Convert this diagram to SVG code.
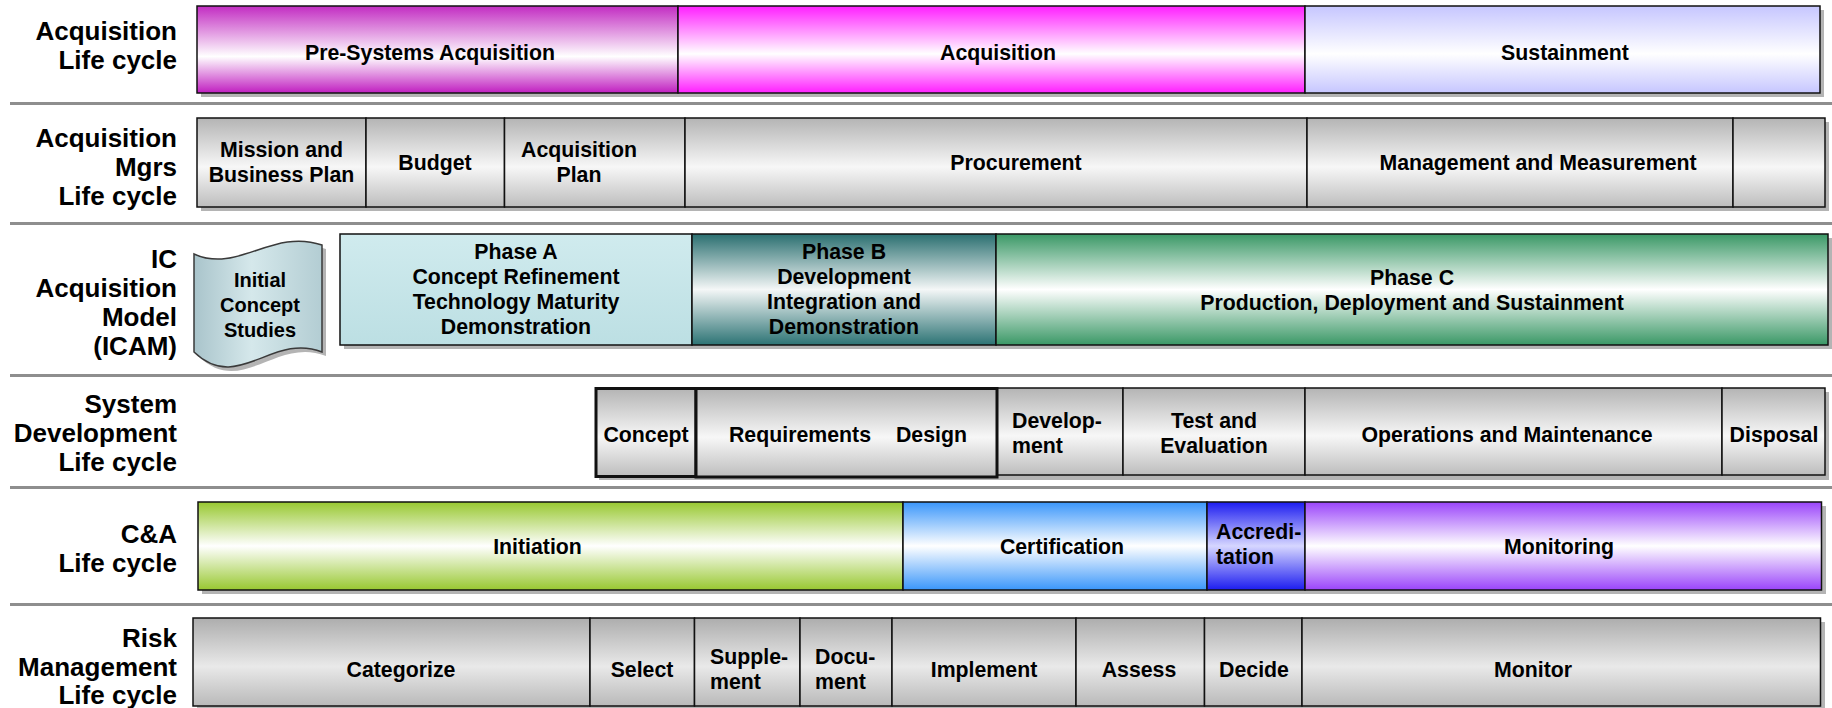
<svg xmlns="http://www.w3.org/2000/svg" width="1832" height="708" viewBox="0 0 1832 708">
  <defs>
    <linearGradient id="gGray" x1="0" y1="0" x2="0" y2="1">
      <stop offset="0" stop-color="#b4b4b4"/>
      <stop offset="0.55" stop-color="#f7f7f7"/>
      <stop offset="1" stop-color="#bdbdbd"/>
    </linearGradient>
    <linearGradient id="gGray2" x1="0" y1="0" x2="0" y2="1">
      <stop offset="0" stop-color="#adadad"/>
      <stop offset="0.55" stop-color="#e9e9e9"/>
      <stop offset="1" stop-color="#b9b9b9"/>
    </linearGradient>
    <linearGradient id="gPre" x1="0" y1="0" x2="0" y2="1">
      <stop offset="0" stop-color="#c22cc2"/>
      <stop offset="0.58" stop-color="#ffffff"/>
      <stop offset="1" stop-color="#c01ec0"/>
    </linearGradient>
    <linearGradient id="gAcq" x1="0" y1="0" x2="0" y2="1">
      <stop offset="0" stop-color="#ff1eff"/>
      <stop offset="0.55" stop-color="#ffffff"/>
      <stop offset="1" stop-color="#ff1eff"/>
    </linearGradient>
    <linearGradient id="gSus" x1="0" y1="0" x2="0" y2="1">
      <stop offset="0" stop-color="#c6c6ff"/>
      <stop offset="0.55" stop-color="#ffffff"/>
      <stop offset="1" stop-color="#c6c6ff"/>
    </linearGradient>
    <linearGradient id="gPhA" x1="0" y1="0" x2="0" y2="1">
      <stop offset="0" stop-color="#d0ebee"/>
      <stop offset="1" stop-color="#bcdfe3"/>
    </linearGradient>
    <linearGradient id="gPhB" x1="0" y1="0" x2="0" y2="1">
      <stop offset="0" stop-color="#2a6f70"/>
      <stop offset="0.5" stop-color="#f4f7f7"/>
      <stop offset="1" stop-color="#2c7374"/>
    </linearGradient>
    <linearGradient id="gPhC" x1="0" y1="0" x2="0" y2="1">
      <stop offset="0" stop-color="#3a9866"/>
      <stop offset="0.5" stop-color="#ffffff"/>
      <stop offset="1" stop-color="#3a9866"/>
    </linearGradient>
    <linearGradient id="gIni" x1="0" y1="0" x2="0" y2="1">
      <stop offset="0" stop-color="#98c830"/>
      <stop offset="0.5" stop-color="#ffffff"/>
      <stop offset="1" stop-color="#98c830"/>
    </linearGradient>
    <linearGradient id="gCer" x1="0" y1="0" x2="0" y2="1">
      <stop offset="0" stop-color="#3a96fa"/>
      <stop offset="0.5" stop-color="#ffffff"/>
      <stop offset="1" stop-color="#3a96fa"/>
    </linearGradient>
    <linearGradient id="gAcc" x1="0" y1="0" x2="0" y2="1">
      <stop offset="0" stop-color="#1c1cf0"/>
      <stop offset="0.5" stop-color="#d6d6ff"/>
      <stop offset="1" stop-color="#1c1cf0"/>
    </linearGradient>
    <linearGradient id="gMon" x1="0" y1="0" x2="0" y2="1">
      <stop offset="0" stop-color="#9a44fa"/>
      <stop offset="0.5" stop-color="#ffffff"/>
      <stop offset="1" stop-color="#9a44fa"/>
    </linearGradient>
    <linearGradient id="gScroll" x1="0" y1="0" x2="1" y2="0">
      <stop offset="0" stop-color="#a9c4cb"/>
      <stop offset="0.45" stop-color="#d5e8eb"/>
      <stop offset="1" stop-color="#b3cdd3"/>
    </linearGradient>
  </defs>
  <style>
    text { font-family: "Liberation Sans", Arial, sans-serif; font-weight: bold; fill: #000; }
    .lbl { font-size: 26px; text-anchor: end; }
    .t { font-size: 21.3px; text-anchor: middle; }
    .tl { font-size: 21.3px; text-anchor: start; }
    .ts { font-size: 20px; text-anchor: middle; }
    .cell { stroke: #111; stroke-width: 1.5; }
    .thick { stroke: #111; stroke-width: 3; }
    .shadow { fill: #b4b4b4; }
    .sep { stroke: #8e8e8e; stroke-width: 3; }
  </style>

  <rect width="1832" height="708" fill="#ffffff"/>

  <!-- horizontal separators between the life cycle rows -->
  <g id="separators">
    <line class="sep" x1="10" y1="103.5" x2="1832" y2="103.5"/>
    <line class="sep" x1="10" y1="223.5" x2="1832" y2="223.5"/>
    <line class="sep" x1="10" y1="375.5" x2="1832" y2="375.5"/>
    <line class="sep" x1="10" y1="487.5" x2="1832" y2="487.5"/>
    <line class="sep" x1="10" y1="604.5" x2="1832" y2="604.5"/>
  </g>

  <!-- row labels -->
  <g id="label-acquisition">
    <text class="lbl" x="177" y="39.5">Acquisition</text>
    <text class="lbl" x="177" y="68.5">Life cycle</text>
  </g>
  <g id="label-mgrs">
    <text class="lbl" x="177" y="147">Acquisition</text>
    <text class="lbl" x="177" y="176">Mgrs</text>
    <text class="lbl" x="177" y="205">Life cycle</text>
  </g>
  <g id="label-icam">
    <text class="lbl" x="177" y="268">IC</text>
    <text class="lbl" x="177" y="297">Acquisition</text>
    <text class="lbl" x="177" y="326">Model</text>
    <text class="lbl" x="177" y="355">(ICAM)</text>
  </g>
  <g id="label-sdlc">
    <text class="lbl" x="177" y="413">System</text>
    <text class="lbl" x="177" y="442">Development</text>
    <text class="lbl" x="177" y="471">Life cycle</text>
  </g>
  <g id="label-ca">
    <text class="lbl" x="177" y="543">C&amp;A</text>
    <text class="lbl" x="177" y="572">Life cycle</text>
  </g>
  <g id="label-risk">
    <text class="lbl" x="177" y="647">Risk</text>
    <text class="lbl" x="177" y="675.5">Management</text>
    <text class="lbl" x="177" y="704">Life cycle</text>
  </g>

  <!-- Row 1: acquisition life cycle -->
  <rect class="shadow" x="201" y="10" width="1623" height="87"/>
  <g id="pre-systems">
    <rect class="cell" x="197" y="6" width="481" height="87" fill="url(#gPre)"/>
    <text class="t" x="430" y="60">Pre-Systems Acquisition</text>
  </g>
  <g id="acquisition">
    <rect class="cell" x="678" y="6" width="627" height="87" fill="url(#gAcq)"/>
    <text class="t" x="998" y="60">Acquisition</text>
  </g>
  <g id="sustainment">
    <rect class="cell" x="1305" y="6" width="515" height="87" fill="url(#gSus)"/>
    <text class="t" x="1565" y="60">Sustainment</text>
  </g>

  <!-- Row 2: acquisition managers life cycle -->
  <rect class="shadow" x="201" y="122" width="1628" height="89"/>
  <g id="mission-plan">
    <rect class="cell" x="197" y="118" width="169" height="89" fill="url(#gGray)"/>
    <text class="t" x="281.5" y="156.5">Mission and</text>
    <text class="t" x="281.5" y="181.5">Business Plan</text>
  </g>
  <g id="budget">
    <rect class="cell" x="366" y="118" width="138.5" height="89" fill="url(#gGray)"/>
    <text class="t" x="435" y="169.5">Budget</text>
  </g>
  <g id="acquisition-plan">
    <rect class="cell" x="504.5" y="118" width="180.5" height="89" fill="url(#gGray)"/>
    <text class="t" x="579" y="156.5">Acquisition</text>
    <text class="t" x="579" y="181.5">Plan</text>
  </g>
  <g id="procurement">
    <rect class="cell" x="685" y="118" width="622" height="89" fill="url(#gGray)"/>
    <text class="t" x="1016" y="169.5">Procurement</text>
  </g>
  <g id="management-measurement">
    <rect class="cell" x="1307" y="118" width="426" height="89" fill="url(#gGray)"/>
    <text class="t" x="1538" y="169.5">Management and Measurement</text>
  </g>
  <g id="mgrs-end">
    <rect class="cell" x="1733" y="118" width="92" height="89" fill="url(#gGray)"/>
  </g>

  <!-- Row 3: IC acquisition model -->
  <g id="initial-concept-studies">
    <path class="shadow" d="M198,258 C242,278 276,232 326,249 L326,356 C276,336 242,398 198,356 Z"/>
    <path d="M194,254 C238,274 272,228 322,245 L322,352 C272,332 238,394 194,352 Z" fill="url(#gScroll)" stroke="#3a3a3a" stroke-width="1.5"/>
    <text class="ts" x="260" y="287">Initial</text>
    <text class="ts" x="260" y="312">Concept</text>
    <text class="ts" x="260" y="337">Studies</text>
  </g>
  <rect class="shadow" x="344" y="238" width="1488" height="111"/>
  <g id="phase-a">
    <rect class="cell" x="340" y="234" width="352" height="111" fill="url(#gPhA)"/>
    <text class="t" x="516" y="258.5">Phase A</text>
    <text class="t" x="516" y="283.8">Concept Refinement</text>
    <text class="t" x="516" y="309.1">Technology Maturity</text>
    <text class="t" x="516" y="334.4">Demonstration</text>
  </g>
  <g id="phase-b">
    <rect class="cell" x="692" y="234" width="304" height="111" fill="url(#gPhB)"/>
    <text class="t" x="844" y="258.5">Phase B</text>
    <text class="t" x="844" y="283.8">Development</text>
    <text class="t" x="844" y="309.1">Integration and</text>
    <text class="t" x="844" y="334.4">Demonstration</text>
  </g>
  <g id="phase-c">
    <rect class="cell" x="996" y="234" width="832" height="111" fill="url(#gPhC)"/>
    <text class="t" x="1412" y="284.5">Phase C</text>
    <text class="t" x="1412" y="309.8">Production, Deployment and Sustainment</text>
  </g>

  <!-- Row 4: system development life cycle -->
  <rect class="shadow" x="599" y="392" width="1230" height="88"/>
  <g id="develop-cell">
    <rect class="cell" x="997" y="388" width="126" height="87" fill="url(#gGray)"/>
    <text class="tl" x="1012" y="428">Develop-</text>
    <text class="tl" x="1012" y="453">ment</text>
  </g>
  <g id="test-evaluation">
    <rect class="cell" x="1123" y="388" width="182" height="87" fill="url(#gGray)"/>
    <text class="t" x="1214" y="428">Test and</text>
    <text class="t" x="1214" y="453">Evaluation</text>
  </g>
  <g id="operations-maintenance">
    <rect class="cell" x="1305" y="388" width="417" height="87" fill="url(#gGray)"/>
    <text class="t" x="1507" y="441.5">Operations and Maintenance</text>
  </g>
  <g id="disposal">
    <rect class="cell" x="1722" y="388" width="103" height="87" fill="url(#gGray)"/>
    <text class="t" x="1774" y="441.5">Disposal</text>
  </g>
  <g id="concept">
    <rect class="thick" x="596" y="388.5" width="100" height="88" fill="url(#gGray)"/>
    <text class="t" x="646" y="441.5">Concept</text>
  </g>
  <g id="requirements-design">
    <rect class="thick" x="696" y="388.5" width="301" height="88.5" fill="url(#gGray)"/>
    <text class="t" x="800" y="441.5">Requirements</text>
    <text class="t" x="931.5" y="441.5">Design</text>
  </g>

  <!-- Row 5: C&A life cycle -->
  <rect class="shadow" x="202" y="506" width="1624" height="88"/>
  <g id="initiation">
    <rect class="cell" x="198" y="502" width="705" height="88" fill="url(#gIni)"/>
    <text class="t" x="537.5" y="553.5">Initiation</text>
  </g>
  <g id="certification">
    <rect class="cell" x="903" y="502" width="304" height="88" fill="url(#gCer)"/>
    <text class="t" x="1062" y="553.5">Certification</text>
  </g>
  <g id="accreditation">
    <rect class="cell" x="1207" y="502" width="98" height="88" fill="url(#gAcc)"/>
    <text class="tl" x="1216" y="539">Accredi-</text>
    <text class="tl" x="1216" y="564">tation</text>
  </g>
  <g id="monitoring">
    <rect class="cell" x="1305" y="502" width="516.5" height="88" fill="url(#gMon)"/>
    <text class="t" x="1559" y="553.5">Monitoring</text>
  </g>

  <!-- Row 6: risk management life cycle -->
  <rect class="shadow" x="197" y="622" width="1628" height="88"/>
  <g id="categorize">
    <rect class="cell" x="193" y="618" width="397" height="88" fill="url(#gGray2)"/>
    <text class="t" x="401" y="676.5">Categorize</text>
  </g>
  <g id="select">
    <rect class="cell" x="590" y="618" width="104.5" height="88" fill="url(#gGray2)"/>
    <text class="t" x="642" y="676.5">Select</text>
  </g>
  <g id="supplement">
    <rect class="cell" x="694.5" y="618" width="105.5" height="88" fill="url(#gGray2)"/>
    <text class="tl" x="710" y="664">Supple-</text>
    <text class="tl" x="710" y="689">ment</text>
  </g>
  <g id="document">
    <rect class="cell" x="800" y="618" width="92" height="88" fill="url(#gGray2)"/>
    <text class="tl" x="815" y="664">Docu-</text>
    <text class="tl" x="815" y="689">ment</text>
  </g>
  <g id="implement">
    <rect class="cell" x="892" y="618" width="184" height="88" fill="url(#gGray2)"/>
    <text class="t" x="984" y="676.5">Implement</text>
  </g>
  <g id="assess">
    <rect class="cell" x="1076" y="618" width="128.5" height="88" fill="url(#gGray2)"/>
    <text class="t" x="1139" y="676.5">Assess</text>
  </g>
  <g id="decide">
    <rect class="cell" x="1204.5" y="618" width="97.5" height="88" fill="url(#gGray2)"/>
    <text class="t" x="1254" y="676.5">Decide</text>
  </g>
  <g id="monitor">
    <rect class="cell" x="1302" y="618" width="518.5" height="88" fill="url(#gGray2)"/>
    <text class="t" x="1533" y="676.5">Monitor</text>
  </g>
</svg>
